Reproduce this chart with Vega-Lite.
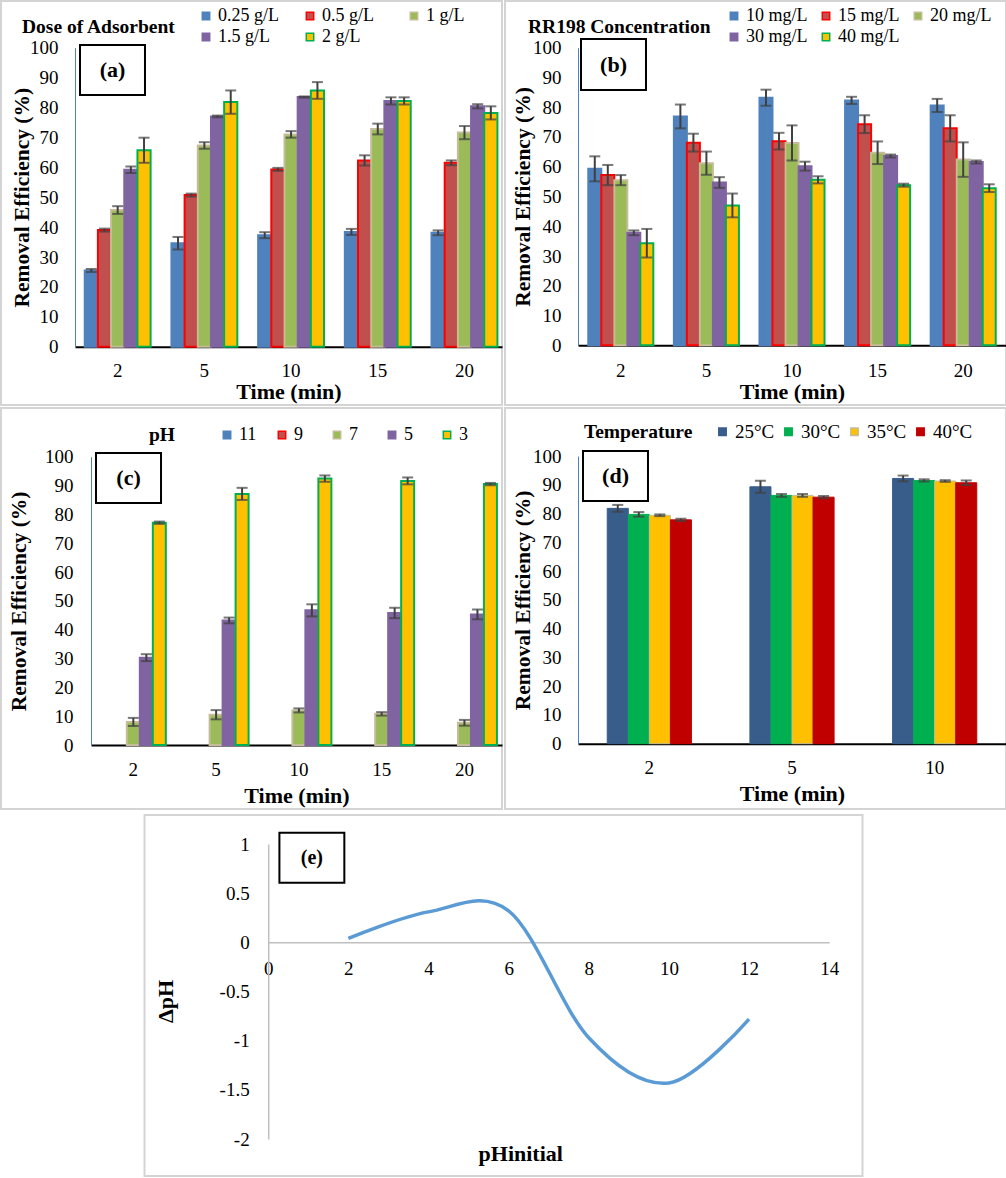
{
"$schema": "https://vega.github.io/schema/vega-lite/v6.json",
"background": "white",
"padding": 0,
"config": {
  "font": "Liberation Serif, serif",
  "view": {"stroke": "#d4d4d4", "strokeWidth": 2},
  "axis": {"grid": false, "ticks": false},
  "legend": {"labelFont": "Liberation Serif", "titleFont": "Liberation Serif", "labelFontSize": 18, "titleFontSize": 19.5, "titleFontWeight": "bold", "labelColor": "black", "titleColor": "black", "symbolType": "square", "symbolSize": 55, "symbolStrokeWidth": 1.5, "labelOffset": 3, "padding": 0, "titleLimit": 400}
},
"datasets": {
  "a": [
    {"t":"2","s":"0.25 g/L","v":25.5,"lo":25.0,"hi":26.0},
    {"t":"2","s":"0.5 g/L","v":39.0,"lo":38.5,"hi":39.5},
    {"t":"2","s":"1 g/L","v":45.7,"lo":44.4,"hi":47.0},
    {"t":"2","s":"1.5 g/L","v":59.2,"lo":58.1,"hi":60.3},
    {"t":"2","s":"2 g/L","v":65.7,"lo":61.5,"hi":69.9},
    {"t":"5","s":"0.25 g/L","v":34.6,"lo":32.5,"hi":36.7},
    {"t":"5","s":"0.5 g/L","v":50.7,"lo":50.2,"hi":51.2},
    {"t":"5","s":"1 g/L","v":67.3,"lo":66.2,"hi":68.4},
    {"t":"5","s":"1.5 g/L","v":77.0,"lo":76.7,"hi":77.3},
    {"t":"5","s":"2 g/L","v":81.8,"lo":77.9,"hi":85.7},
    {"t":"10","s":"0.25 g/L","v":37.3,"lo":36.3,"hi":38.3},
    {"t":"10","s":"0.5 g/L","v":59.3,"lo":58.8,"hi":59.8},
    {"t":"10","s":"1 g/L","v":71.0,"lo":69.9,"hi":72.1},
    {"t":"10","s":"1.5 g/L","v":83.5,"lo":83.3,"hi":83.7},
    {"t":"10","s":"2 g/L","v":85.7,"lo":82.9,"hi":88.5},
    {"t":"15","s":"0.25 g/L","v":38.4,"lo":37.4,"hi":39.4},
    {"t":"15","s":"0.5 g/L","v":62.3,"lo":60.6,"hi":64.0},
    {"t":"15","s":"1 g/L","v":72.8,"lo":71.0,"hi":74.6},
    {"t":"15","s":"1.5 g/L","v":82.2,"lo":81.0,"hi":83.4},
    {"t":"15","s":"2 g/L","v":82.2,"lo":81.0,"hi":83.4},
    {"t":"20","s":"0.25 g/L","v":38.1,"lo":37.3,"hi":38.9},
    {"t":"20","s":"0.5 g/L","v":61.5,"lo":60.7,"hi":62.3},
    {"t":"20","s":"1 g/L","v":71.6,"lo":69.4,"hi":73.8},
    {"t":"20","s":"1.5 g/L","v":80.4,"lo":79.7,"hi":81.1},
    {"t":"20","s":"2 g/L","v":78.2,"lo":76.0,"hi":80.4}
  ],
  "b": [
    {"t":"2","s":"10 mg/L","v":59.3,"lo":55.1,"hi":63.5},
    {"t":"2","s":"15 mg/L","v":57.2,"lo":53.8,"hi":60.6},
    {"t":"2","s":"20 mg/L","v":55.5,"lo":53.8,"hi":57.2},
    {"t":"2","s":"30 mg/L","v":37.8,"lo":37.0,"hi":38.6},
    {"t":"2","s":"40 mg/L","v":34.3,"lo":29.5,"hi":39.1},
    {"t":"5","s":"10 mg/L","v":76.9,"lo":72.9,"hi":80.9},
    {"t":"5","s":"15 mg/L","v":68.1,"lo":65.1,"hi":71.1},
    {"t":"5","s":"20 mg/L","v":61.2,"lo":57.3,"hi":65.1},
    {"t":"5","s":"30 mg/L","v":54.7,"lo":52.9,"hi":56.5},
    {"t":"5","s":"40 mg/L","v":47.0,"lo":43.0,"hi":51.0},
    {"t":"10","s":"10 mg/L","v":83.2,"lo":80.5,"hi":85.9},
    {"t":"10","s":"15 mg/L","v":68.6,"lo":65.8,"hi":71.4},
    {"t":"10","s":"20 mg/L","v":68.0,"lo":62.1,"hi":73.9},
    {"t":"10","s":"30 mg/L","v":60.2,"lo":58.7,"hi":61.7},
    {"t":"10","s":"40 mg/L","v":55.6,"lo":54.4,"hi":56.8},
    {"t":"15","s":"10 mg/L","v":82.3,"lo":81.1,"hi":83.5},
    {"t":"15","s":"15 mg/L","v":74.3,"lo":71.3,"hi":77.3},
    {"t":"15","s":"20 mg/L","v":64.7,"lo":60.9,"hi":68.5},
    {"t":"15","s":"30 mg/L","v":63.6,"lo":63.1,"hi":64.1},
    {"t":"15","s":"40 mg/L","v":53.8,"lo":53.3,"hi":54.3},
    {"t":"20","s":"10 mg/L","v":80.6,"lo":78.4,"hi":82.8},
    {"t":"20","s":"15 mg/L","v":72.9,"lo":68.5,"hi":77.3},
    {"t":"20","s":"20 mg/L","v":62.4,"lo":56.6,"hi":68.2},
    {"t":"20","s":"30 mg/L","v":61.6,"lo":61.1,"hi":62.1},
    {"t":"20","s":"40 mg/L","v":52.8,"lo":51.5,"hi":54.1}
  ],
  "c": [
    {"t":"2","s":"7","v":8.0,"lo":6.6,"hi":9.4},
    {"t":"2","s":"5","v":30.3,"lo":29.1,"hi":31.5},
    {"t":"2","s":"3","v":77.1,"lo":76.7,"hi":77.5},
    {"t":"5","s":"7","v":10.5,"lo":8.9,"hi":12.1},
    {"t":"5","s":"5","v":43.2,"lo":42.2,"hi":44.2},
    {"t":"5","s":"3","v":87.1,"lo":85.0,"hi":89.2},
    {"t":"10","s":"7","v":12.0,"lo":11.3,"hi":12.7},
    {"t":"10","s":"5","v":46.7,"lo":44.6,"hi":48.8},
    {"t":"10","s":"3","v":92.4,"lo":91.3,"hi":93.5},
    {"t":"15","s":"7","v":10.8,"lo":10.2,"hi":11.4},
    {"t":"15","s":"5","v":45.8,"lo":44.0,"hi":47.6},
    {"t":"15","s":"3","v":91.6,"lo":90.4,"hi":92.8},
    {"t":"20","s":"7","v":7.7,"lo":6.7,"hi":8.7},
    {"t":"20","s":"5","v":45.3,"lo":43.6,"hi":47.0},
    {"t":"20","s":"3","v":90.5,"lo":90.1,"hi":90.9}
  ],
  "d": [
    {"t":"2","s":"25°C","v":81.8,"lo":80.6,"hi":83.0},
    {"t":"2","s":"30°C","v":79.7,"lo":78.9,"hi":80.5},
    {"t":"2","s":"35°C","v":79.4,"lo":79.1,"hi":79.7},
    {"t":"2","s":"40°C","v":77.8,"lo":77.4,"hi":78.2},
    {"t":"5","s":"25°C","v":89.3,"lo":87.2,"hi":91.4},
    {"t":"5","s":"30°C","v":86.3,"lo":85.8,"hi":86.8},
    {"t":"5","s":"35°C","v":86.3,"lo":85.8,"hi":86.8},
    {"t":"5","s":"40°C","v":85.7,"lo":85.3,"hi":86.1},
    {"t":"10","s":"25°C","v":92.2,"lo":91.2,"hi":93.2},
    {"t":"10","s":"30°C","v":91.5,"lo":91.1,"hi":91.9},
    {"t":"10","s":"35°C","v":91.3,"lo":91.0,"hi":91.6},
    {"t":"10","s":"40°C","v":90.7,"lo":89.9,"hi":91.5}
  ],
  "e": [
    {"ph":2,"d":0.04},
    {"ph":4,"d":0.31},
    {"ph":6,"d":0.32},
    {"ph":8,"d":-0.97},
    {"ph":10,"d":-1.43},
    {"ph":12,"d":-0.78}
  ]
},
"spacing": 4,
"center": true,
"resolve": {"scale": {"fill": "independent", "stroke": "independent", "xOffset": "independent", "x": "independent", "y": "independent"}, "legend": {"fill": "independent", "stroke": "independent"}},
"vconcat": [
{
"columns": 2,
"bounds": "flush",
"spacing": {"row": 3, "column": 3},
"resolve": {"scale": {"fill": "independent", "stroke": "independent", "xOffset": "independent", "x": "independent", "y": "independent"}, "legend": {"fill": "independent", "stroke": "independent"}},
"concat": [
  {
    "width": 501, "height": 404,
    "data": {"name": "a"},
    "layer": [
      {"mark": {"type": "bar", "strokeWidth": 2},
       "encoding": {
         "x": {"field": "t", "type": "nominal", "sort": ["2","5","10","15","20"], "scale": {"range": [74, 501], "paddingInner": 0.24, "paddingOuter": 0.0825, "align": 0.68},
               "axis": {"title": "Time (min)", "offset": -58.3, "labelAngle": 0, "labelPadding": 15, "titlePadding": 1, "domainColor": "black", "domainWidth": 2, "labelFont": "Liberation Serif, serif", "titleFont": "Liberation Serif, serif", "labelFontSize": 19, "titleFontSize": 22, "titleFontWeight": "bold", "labelColor": "black", "titleColor": "black"}},
         "xOffset": {"field": "s", "type": "nominal", "sort": ["0.25 g/L","0.5 g/L","1 g/L","1.5 g/L","2 g/L"], "scale": {"domain": ["0.25 g/L","0.5 g/L","1 g/L","1.5 g/L","2 g/L"], "paddingInner": 0, "paddingOuter": 0}},
         "y": {"field": "v", "type": "quantitative", "scale": {"domain": [0,100], "nice": false, "range": [345.7, 46.7]},
               "axis": {"title": "Removal Efficiency (%)", "offset": -74, "values": [0,10,20,30,40,50,60,70,80,90,100], "labelOverlap": false, "labelPadding": 17, "domainColor": "#4f81bd", "domainWidth": 1, "minExtent": 42, "maxExtent": 42, "titlePadding": 0, "labelFont": "Liberation Serif, serif", "titleFont": "Liberation Serif, serif", "labelFontSize": 19, "titleFontSize": 21.5, "titleFontWeight": "bold", "labelColor": "black", "titleColor": "black"}},
         "fill": {"field": "s", "type": "nominal", "scale": {"domain": ["0.25 g/L","0.5 g/L","1 g/L","1.5 g/L","2 g/L"], "range": ["#4f81bd","#c0504d","#9bbb59","#8064a2","#ffc000"]},
                  "legend": {"title": "Dose of Adsorbent", "orient": "none", "legendX": 21, "legendY": 6, "direction": "horizontal", "columns": 3, "gridAlign": "all", "columnPadding": 22, "rowPadding": 3, "titleOrient": "left", "titleAnchor": "middle", "titleBaseline": "middle", "titlePadding": 21}},
         "stroke": {"field": "s", "type": "nominal", "scale": {"domain": ["0.25 g/L","0.5 g/L","1 g/L","1.5 g/L","2 g/L"], "range": ["#4f81bd","#ff0000","#c4bd97","#8064a2","#00b050"]},
                  "legend": {"title": "Dose of Adsorbent", "orient": "none", "legendX": 21, "legendY": 6, "direction": "horizontal", "columns": 3, "gridAlign": "all", "columnPadding": 22, "rowPadding": 3, "titleOrient": "left", "titleAnchor": "middle", "titleBaseline": "middle", "titlePadding": 21}}
       }},
      {"mark": {"type": "rule", "color": "#404040", "strokeWidth": 2},
       "encoding": {
         "x": {"field": "t", "type": "nominal", "sort": ["2","5","10","15","20"], "scale": {"range": [74, 501], "paddingInner": 0.24, "paddingOuter": 0.0825, "align": 0.68}, "axis": null},
         "xOffset": {"field": "s", "type": "nominal", "sort": ["0.25 g/L","0.5 g/L","1 g/L","1.5 g/L","2 g/L"]},
         "y": {"field": "lo", "type": "quantitative"}, "y2": {"field": "hi"}}},
      {"mark": {"type": "tick", "color": "#404040", "size": 11, "thickness": 2},
       "encoding": {
         "x": {"field": "t", "type": "nominal", "sort": ["2","5","10","15","20"], "scale": {"range": [74, 501], "paddingInner": 0.24, "paddingOuter": 0.0825, "align": 0.68}, "axis": null},
         "xOffset": {"field": "s", "type": "nominal", "sort": ["0.25 g/L","0.5 g/L","1 g/L","1.5 g/L","2 g/L"]},
         "y": {"field": "lo", "type": "quantitative"}}},
      {"mark": {"type": "tick", "color": "#404040", "size": 11, "thickness": 2},
       "encoding": {
         "x": {"field": "t", "type": "nominal", "sort": ["2","5","10","15","20"], "scale": {"range": [74, 501], "paddingInner": 0.24, "paddingOuter": 0.0825, "align": 0.68}, "axis": null},
         "xOffset": {"field": "s", "type": "nominal", "sort": ["0.25 g/L","0.5 g/L","1 g/L","1.5 g/L","2 g/L"]},
         "y": {"field": "hi", "type": "quantitative"}}},
      {"data": {"values": [{"label": "(a)"}]},
       "mark": {"type": "rect", "fill": "white", "stroke": "black", "strokeWidth": 2},
       "encoding": {"x": {"datum": 0.1577, "type": "quantitative", "scale": {"domain": [0,1]}, "axis": null}, "x2": {"datum": 0.2874},
                    "y": {"datum": 84.2, "type": "quantitative"}, "y2": {"datum": 100.9}}},
      {"data": {"values": [{"label": "(a)"}]},
       "mark": {"type": "text", "font": "Liberation Serif", "fontSize": 22, "fontWeight": "bold", "color": "black", "align": "center", "baseline": "middle"},
       "encoding": {"x": {"datum": 0.2226, "type": "quantitative", "scale": {"domain": [0,1]}, "axis": null},
                    "y": {"datum": 92.5, "type": "quantitative"}, "text": {"field": "label"}}}
    ],
    "resolve": {"scale": {"x": "independent"}}
  },
  {
    "width": 501, "height": 404,
    "data": {"name": "b"},
    "layer": [
      {"mark": {"type": "bar", "strokeWidth": 2},
       "encoding": {
         "x": {"field": "t", "type": "nominal", "sort": ["2","5","10","15","20"], "scale": {"range": [73, 501], "paddingInner": 0.24, "paddingOuter": 0.12},
               "axis": {"title": "Time (min)", "offset": -59.7, "labelAngle": 0, "labelPadding": 16.5, "titlePadding": 1, "domainColor": "black", "domainWidth": 2, "labelFont": "Liberation Serif, serif", "titleFont": "Liberation Serif, serif", "labelFontSize": 19, "titleFontSize": 22, "titleFontWeight": "bold", "labelColor": "black", "titleColor": "black"}},
         "xOffset": {"field": "s", "type": "nominal", "sort": ["10 mg/L","15 mg/L","20 mg/L","30 mg/L","40 mg/L"], "scale": {"domain": ["10 mg/L","15 mg/L","20 mg/L","30 mg/L","40 mg/L"], "paddingInner": 0, "paddingOuter": 0}},
         "y": {"field": "v", "type": "quantitative", "scale": {"domain": [0,100], "nice": false, "range": [344.3, 46.7]},
               "axis": {"title": "Removal Efficiency (%)", "offset": -73, "values": [0,10,20,30,40,50,60,70,80,90,100], "labelOverlap": false, "labelPadding": 17, "domainColor": "#4f81bd", "domainWidth": 1, "minExtent": 44, "maxExtent": 44, "titlePadding": 0, "labelFont": "Liberation Serif, serif", "titleFont": "Liberation Serif, serif", "labelFontSize": 19, "titleFontSize": 21.5, "titleFontWeight": "bold", "labelColor": "black", "titleColor": "black"}},
         "fill": {"field": "s", "type": "nominal", "scale": {"domain": ["10 mg/L","15 mg/L","20 mg/L","30 mg/L","40 mg/L"], "range": ["#4f81bd","#c0504d","#9bbb59","#8064a2","#ffc000"]},
                  "legend": {"title": "RR198 Concentration", "orient": "none", "legendX": 23, "legendY": 6, "direction": "horizontal", "columns": 3, "gridAlign": "all", "columnPadding": 9, "rowPadding": 3, "titleOrient": "left", "titleAnchor": "middle", "titleBaseline": "middle", "titlePadding": 14}},
         "stroke": {"field": "s", "type": "nominal", "scale": {"domain": ["10 mg/L","15 mg/L","20 mg/L","30 mg/L","40 mg/L"], "range": ["#4f81bd","#ff0000","#c4bd97","#8064a2","#00b050"]},
                  "legend": {"title": "RR198 Concentration", "orient": "none", "legendX": 23, "legendY": 6, "direction": "horizontal", "columns": 3, "gridAlign": "all", "columnPadding": 9, "rowPadding": 3, "titleOrient": "left", "titleAnchor": "middle", "titleBaseline": "middle", "titlePadding": 14}}
       }},
      {"mark": {"type": "rule", "color": "#404040", "strokeWidth": 2},
       "encoding": {
         "x": {"field": "t", "type": "nominal", "sort": ["2","5","10","15","20"], "scale": {"range": [73, 501], "paddingInner": 0.24, "paddingOuter": 0.12}, "axis": null},
         "xOffset": {"field": "s", "type": "nominal", "sort": ["10 mg/L","15 mg/L","20 mg/L","30 mg/L","40 mg/L"]},
         "y": {"field": "lo", "type": "quantitative"}, "y2": {"field": "hi"}}},
      {"mark": {"type": "tick", "color": "#404040", "size": 11, "thickness": 2},
       "encoding": {
         "x": {"field": "t", "type": "nominal", "sort": ["2","5","10","15","20"], "scale": {"range": [73, 501], "paddingInner": 0.24, "paddingOuter": 0.12}, "axis": null},
         "xOffset": {"field": "s", "type": "nominal", "sort": ["10 mg/L","15 mg/L","20 mg/L","30 mg/L","40 mg/L"]},
         "y": {"field": "lo", "type": "quantitative"}}},
      {"mark": {"type": "tick", "color": "#404040", "size": 11, "thickness": 2},
       "encoding": {
         "x": {"field": "t", "type": "nominal", "sort": ["2","5","10","15","20"], "scale": {"range": [73, 501], "paddingInner": 0.24, "paddingOuter": 0.12}, "axis": null},
         "xOffset": {"field": "s", "type": "nominal", "sort": ["10 mg/L","15 mg/L","20 mg/L","30 mg/L","40 mg/L"]},
         "y": {"field": "hi", "type": "quantitative"}}},
      {"data": {"values": [{"label": "(b)"}]},
       "mark": {"type": "rect", "fill": "white", "stroke": "black", "strokeWidth": 2},
       "encoding": {"x": {"datum": 0.1517, "type": "quantitative", "scale": {"domain": [0,1]}, "axis": null}, "x2": {"datum": 0.2814},
                    "y": {"datum": 85.8, "type": "quantitative"}, "y2": {"datum": 102.9}}},
      {"data": {"values": [{"label": "(b)"}]},
       "mark": {"type": "text", "font": "Liberation Serif", "fontSize": 22, "fontWeight": "bold", "color": "black", "align": "center", "baseline": "middle"},
       "encoding": {"x": {"datum": 0.2166, "type": "quantitative", "scale": {"domain": [0,1]}, "axis": null},
                    "y": {"datum": 94.3, "type": "quantitative"}, "text": {"field": "label"}}}
    ],
    "resolve": {"scale": {"x": "independent"}}
  },
  {
    "width": 501, "height": 401,
    "data": {"name": "c"},
    "layer": [
      {"mark": {"type": "bar", "strokeWidth": 2},
       "encoding": {
         "x": {"field": "t", "type": "nominal", "sort": ["2","5","10","15","20"], "scale": {"range": [90, 501], "paddingInner": 0.215, "paddingOuter": 0.09, "align": 0.66},
               "axis": {"title": "Time (min)", "offset": -64, "labelAngle": 0, "labelPadding": 15.5, "titlePadding": 6, "domainColor": "black", "domainWidth": 2, "labelFont": "Liberation Serif, serif", "titleFont": "Liberation Serif, serif", "labelFontSize": 19, "titleFontSize": 22, "titleFontWeight": "bold", "labelColor": "black", "titleColor": "black"}},
         "xOffset": {"field": "s", "type": "nominal", "sort": ["11","9","7","5","3"], "scale": {"domain": ["11","9","7","5","3"], "paddingInner": 0, "paddingOuter": 0}},
         "y": {"field": "v", "type": "quantitative", "scale": {"domain": [0,100], "nice": false, "range": [337, 48.7]},
               "axis": {"title": "Removal Efficiency (%)", "offset": -90, "values": [0,10,20,30,40,50,60,70,80,90,100], "labelOverlap": false, "labelPadding": 18, "domainColor": "#4f81bd", "domainWidth": 1, "minExtent": 61, "maxExtent": 61, "titlePadding": 0, "labelFont": "Liberation Serif, serif", "titleFont": "Liberation Serif, serif", "labelFontSize": 19, "titleFontSize": 21.5, "titleFontWeight": "bold", "labelColor": "black", "titleColor": "black"}},
         "fill": {"field": "s", "type": "nominal", "scale": {"domain": ["11","9","7","5","3"], "range": ["#4f81bd","#c0504d","#9bbb59","#8064a2","#ffc000"]},
                  "legend": {"title": "pH", "orient": "none", "legendX": 148, "legendY": 18, "direction": "horizontal", "columns": 5, "gridAlign": "all", "columnPadding": 16, "titleOrient": "left", "titleAnchor": "middle", "titleBaseline": "middle", "titlePadding": 42}},
         "stroke": {"field": "s", "type": "nominal", "scale": {"domain": ["11","9","7","5","3"], "range": ["#4f81bd","#ff0000","#c4bd97","#8064a2","#00b050"]},
                  "legend": {"title": "pH", "orient": "none", "legendX": 148, "legendY": 18, "direction": "horizontal", "columns": 5, "gridAlign": "all", "columnPadding": 16, "titleOrient": "left", "titleAnchor": "middle", "titleBaseline": "middle", "titlePadding": 42}}
       }},
      {"mark": {"type": "rule", "color": "#404040", "strokeWidth": 2},
       "encoding": {
         "x": {"field": "t", "type": "nominal", "sort": ["2","5","10","15","20"], "scale": {"range": [90, 501], "paddingInner": 0.215, "paddingOuter": 0.09, "align": 0.66}, "axis": null},
         "xOffset": {"field": "s", "type": "nominal", "sort": ["11","9","7","5","3"]},
         "y": {"field": "lo", "type": "quantitative"}, "y2": {"field": "hi"}}},
      {"mark": {"type": "tick", "color": "#404040", "size": 11, "thickness": 2},
       "encoding": {
         "x": {"field": "t", "type": "nominal", "sort": ["2","5","10","15","20"], "scale": {"range": [90, 501], "paddingInner": 0.215, "paddingOuter": 0.09, "align": 0.66}, "axis": null},
         "xOffset": {"field": "s", "type": "nominal", "sort": ["11","9","7","5","3"]},
         "y": {"field": "lo", "type": "quantitative"}}},
      {"mark": {"type": "tick", "color": "#404040", "size": 11, "thickness": 2},
       "encoding": {
         "x": {"field": "t", "type": "nominal", "sort": ["2","5","10","15","20"], "scale": {"range": [90, 501], "paddingInner": 0.215, "paddingOuter": 0.09, "align": 0.66}, "axis": null},
         "xOffset": {"field": "s", "type": "nominal", "sort": ["11","9","7","5","3"]},
         "y": {"field": "hi", "type": "quantitative"}}},
      {"data": {"values": [{"label": "(c)"}]},
       "mark": {"type": "rect", "fill": "white", "stroke": "black", "strokeWidth": 2},
       "encoding": {"x": {"datum": 0.1896, "type": "quantitative", "scale": {"domain": [0,1]}, "axis": null}, "x2": {"datum": 0.3194},
                    "y": {"datum": 83.9, "type": "quantitative"}, "y2": {"datum": 101.3}}},
      {"data": {"values": [{"label": "(c)"}]},
       "mark": {"type": "text", "font": "Liberation Serif", "fontSize": 22, "fontWeight": "bold", "color": "black", "align": "center", "baseline": "middle"},
       "encoding": {"x": {"datum": 0.2545, "type": "quantitative", "scale": {"domain": [0,1]}, "axis": null},
                    "y": {"datum": 92.6, "type": "quantitative"}, "text": {"field": "label"}}}
    ],
    "resolve": {"scale": {"x": "independent"}}
  },
  {
    "width": 501, "height": 401,
    "data": {"name": "d"},
    "layer": [
      {"mark": {"type": "bar", "strokeWidth": 1},
       "encoding": {
         "x": {"field": "t", "type": "nominal", "sort": ["2","5","10"], "scale": {"range": [73, 501], "paddingInner": 0.41, "paddingOuter": 0.205},
               "axis": {"title": "Time (min)", "offset": -65.3, "labelAngle": 0, "labelPadding": 15, "titlePadding": 6, "domainColor": "black", "domainWidth": 2, "labelFont": "Liberation Serif, serif", "titleFont": "Liberation Serif, serif", "labelFontSize": 19, "titleFontSize": 22, "titleFontWeight": "bold", "labelColor": "black", "titleColor": "black"}},
         "xOffset": {"field": "s", "type": "nominal", "sort": ["25°C","30°C","35°C","40°C"], "scale": {"domain": ["25°C","30°C","35°C","40°C"], "paddingInner": 0, "paddingOuter": 0}},
         "y": {"field": "v", "type": "quantitative", "scale": {"domain": [0,100], "nice": false, "range": [335.7, 48]},
               "axis": {"title": "Removal Efficiency (%)", "offset": -73, "values": [0,10,20,30,40,50,60,70,80,90,100], "labelOverlap": false, "labelPadding": 17, "domainColor": "#4f81bd", "domainWidth": 1, "minExtent": 44, "maxExtent": 44, "titlePadding": 0, "labelFont": "Liberation Serif, serif", "titleFont": "Liberation Serif, serif", "labelFontSize": 19, "titleFontSize": 21.5, "titleFontWeight": "bold", "labelColor": "black", "titleColor": "black"}},
         "fill": {"field": "s", "type": "nominal", "scale": {"domain": ["25°C","30°C","35°C","40°C"], "range": ["#385d8a","#00b050","#ffc000","#c00000"]},
                  "legend": {"title": "Temperature", "orient": "none", "legendX": 79, "legendY": 14, "direction": "horizontal", "columns": 4, "gridAlign": "all", "columnPadding": 4, "titleOrient": "left", "titleAnchor": "middle", "titleBaseline": "middle", "titlePadding": 20, "labelFontSize": 19}},
         "stroke": {"field": "s", "type": "nominal", "scale": {"domain": ["25°C","30°C","35°C","40°C"], "range": ["#385d8a","#00b050","#c4bd97","#c00000"]},
                  "legend": {"title": "Temperature", "orient": "none", "legendX": 79, "legendY": 14, "direction": "horizontal", "columns": 4, "gridAlign": "all", "columnPadding": 4, "titleOrient": "left", "titleAnchor": "middle", "titleBaseline": "middle", "titlePadding": 20, "labelFontSize": 19}}
       }},
      {"mark": {"type": "rule", "color": "#404040", "strokeWidth": 2},
       "encoding": {
         "x": {"field": "t", "type": "nominal", "sort": ["2","5","10"], "scale": {"range": [73, 501], "paddingInner": 0.41, "paddingOuter": 0.205}, "axis": null},
         "xOffset": {"field": "s", "type": "nominal", "sort": ["25°C","30°C","35°C","40°C"]},
         "y": {"field": "lo", "type": "quantitative"}, "y2": {"field": "hi"}}},
      {"mark": {"type": "tick", "color": "#404040", "size": 11, "thickness": 2},
       "encoding": {
         "x": {"field": "t", "type": "nominal", "sort": ["2","5","10"], "scale": {"range": [73, 501], "paddingInner": 0.41, "paddingOuter": 0.205}, "axis": null},
         "xOffset": {"field": "s", "type": "nominal", "sort": ["25°C","30°C","35°C","40°C"]},
         "y": {"field": "lo", "type": "quantitative"}}},
      {"mark": {"type": "tick", "color": "#404040", "size": 11, "thickness": 2},
       "encoding": {
         "x": {"field": "t", "type": "nominal", "sort": ["2","5","10"], "scale": {"range": [73, 501], "paddingInner": 0.41, "paddingOuter": 0.205}, "axis": null},
         "xOffset": {"field": "s", "type": "nominal", "sort": ["25°C","30°C","35°C","40°C"]},
         "y": {"field": "hi", "type": "quantitative"}}},
      {"data": {"values": [{"label": "(d)"}]},
       "mark": {"type": "rect", "fill": "white", "stroke": "black", "strokeWidth": 2},
       "encoding": {"x": {"datum": 0.1557, "type": "quantitative", "scale": {"domain": [0,1]}, "axis": null}, "x2": {"datum": 0.2854},
                    "y": {"datum": 84.4, "type": "quantitative"}, "y2": {"datum": 101.7}}},
      {"data": {"values": [{"label": "(d)"}]},
       "mark": {"type": "text", "font": "Liberation Serif", "fontSize": 22, "fontWeight": "bold", "color": "black", "align": "center", "baseline": "middle"},
       "encoding": {"x": {"datum": 0.2206, "type": "quantitative", "scale": {"domain": [0,1]}, "axis": null},
                    "y": {"datum": 93.0, "type": "quantitative"}, "text": {"field": "label"}}}
    ],
    "resolve": {"scale": {"x": "independent"}}
  }
]
},
  {
    "width": 718, "height": 361,
    "layer": [
      {"data": {"name": "e"},
       "mark": {"type": "line", "color": "#5b9bd5", "strokeWidth": 3.5, "interpolate": "cardinal", "tension": 0},
       "encoding": {
         "x": {"field": "ph", "type": "quantitative", "scale": {"domain": [0,14], "range": [123.7, 684.7], "nice": false, "zero": false},
               "axis": {"title": "pHinitial", "values": [0,2,4,6,8,10,12,14], "labelFlush": false, "offset": -233.7, "domainColor": "#bfbfbf", "domainWidth": 1.5, "labelPadding": 17, "titleX": 375.7, "titleY": 218, "titleBaseline": "alphabetic", "labelFont": "Liberation Serif, serif", "titleFont": "Liberation Serif, serif", "labelFontSize": 19, "titleFontSize": 22, "titleFontWeight": "bold", "labelColor": "black", "titleColor": "black"}},
         "y": {"field": "d", "type": "quantitative", "scale": {"domain": [-2,1], "nice": false, "zero": false, "range": [324, 29]},
               "axis": {"title": "ΔpH", "values": [-2,-1.5,-1,-0.5,0,0.5,1], "labelExpr": "datum.value + ''", "offset": -123.7, "domainColor": "#bfbfbf", "domainWidth": 1.5, "labelPadding": 19, "minExtent": 91, "maxExtent": 91, "titlePadding": 0, "titleY": 186, "labelFont": "Liberation Serif, serif", "titleFont": "Liberation Serif, serif", "labelFontSize": 19, "titleFontSize": 22, "titleFontWeight": "bold", "labelColor": "black", "titleColor": "black"}}
       }},
      {"data": {"values": [{"label": "(e)"}]},
       "mark": {"type": "rect", "fill": "white", "stroke": "black", "strokeWidth": 2},
       "encoding": {"x": {"datum": 0.28, "type": "quantitative"}, "x2": {"datum": 1.9},
                    "y": {"datum": 0.606, "type": "quantitative"}, "y2": {"datum": 1.115}}},
      {"data": {"values": [{"label": "(e)"}]},
       "mark": {"type": "text", "font": "Liberation Serif", "fontSize": 20, "fontWeight": "bold", "color": "black", "align": "center", "baseline": "middle"},
       "encoding": {"x": {"datum": 1.09, "type": "quantitative"},
                    "y": {"datum": 0.86, "type": "quantitative"}, "text": {"field": "label"}}}
    ]
  }
]
}
